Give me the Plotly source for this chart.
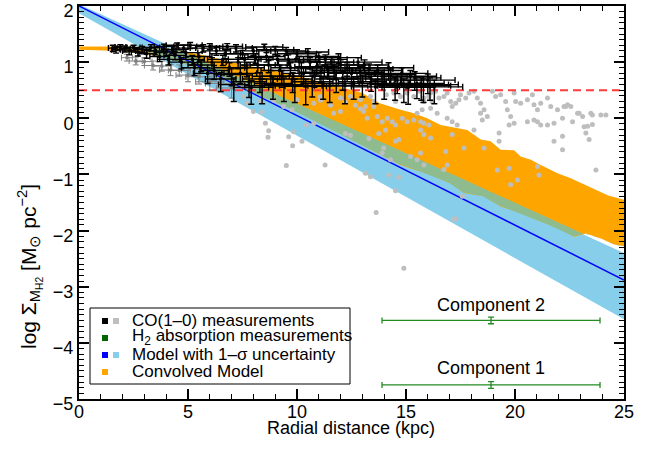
import numpy as np
import plotly.graph_objects as go

# ---------------- data ----------------
# Exponential model with 1-sigma uncertainty band (log Sigma vs radius)
model_r = [0.0, 25.0]
model_mid = [2.00, -2.88]
model_hi = [2.03, -2.40]
model_lo = [1.87, -3.58]

# Convolved model band (upper / lower envelopes)
conv_hi_r = [0, 2, 4, 5, 6, 7, 8, 9, 10, 11, 12, 13, 13.8, 14.75, 15.36, 15.97, 16.59,
             17.05, 17.81, 18.43, 18.88, 19.34, 19.96, 20.26, 20.73, 21.18, 21.95,
             22.56, 23.05, 23.33, 24.25, 24.4, 25.0]
conv_hi = [1.28, 1.28, 1.25, 1.18, 1.10, 1.00, 0.92, 0.85, 0.76, 0.66, 0.55, 0.45, 0.27,
           0.15, 0.09, 0.00, -0.12, -0.15, -0.21, -0.38, -0.41, -0.56, -0.57, -0.68,
           -0.74, -0.83, -0.98, -1.07, -1.16, -1.21, -1.37, -1.39, -1.45]
conv_lo_r = [0, 2, 3, 4, 5, 6, 7, 8, 9, 10, 11, 12, 13, 14, 14.75, 16.13, 17.05, 17.66,
             18.58, 19.34, 20.26, 21.18, 21.95, 22.71, 23.25, 23.94, 24.55, 25.0]
conv_lo = [1.22, 1.20, 1.15, 1.08, 0.95, 0.80, 0.62, 0.46, 0.29, 0.12, -0.08, -0.28, -0.48,
           -0.68, -0.83, -1.01, -1.16, -1.33, -1.39, -1.57, -1.69, -1.84, -1.96, -2.11,
           -2.05, -2.14, -2.25, -2.28]

# CO(1-0) measurements with error bars (black)
co_r = [1.55, 1.7, 1.9, 2.1, 2.3, 2.5, 2.7, 2.9,
        3.1, 3.3, 3.5, 3.7, 3.9, 4.1, 4.3, 4.5, 4.7, 4.9,
        5.1, 5.3, 5.5, 5.7, 5.9, 6.1, 6.3, 6.5, 6.7, 6.9,
        7.1, 7.2, 7.4, 7.6, 7.8, 8.0, 8.2, 8.4, 8.6, 8.8, 9.0,
        9.2, 9.4, 9.6, 9.8, 10.0, 10.2, 10.4, 10.6, 10.8, 11.0, 11.2, 11.4, 11.6, 11.8,
        12.0, 12.2, 12.5, 12.8, 13.0, 13.3, 13.6, 13.9, 14.2, 14.5, 14.8,
        15.1, 15.4, 15.7, 16.0, 16.3,
        4.0, 4.4, 4.8, 5.2, 5.6, 6.0, 6.2, 6.6, 6.8, 7.0, 7.3, 7.5, 7.7, 7.9, 8.1, 8.3,
        8.5, 8.7, 8.9, 9.1, 9.3, 9.5, 9.7, 9.9, 10.1, 10.3, 10.5, 10.7, 10.9, 11.1, 11.3,
        11.5, 11.7, 11.9, 12.1, 12.3, 12.6, 12.9, 13.1, 13.4, 13.7, 14.0, 14.3, 14.6,
        14.9, 15.2, 15.5, 15.8, 16.1]
co_sigma = [1.25, 1.22, 1.27, 1.24, 1.20, 1.26, 1.18, 1.23,
            1.15, 1.26, 1.20, 1.10, 1.28, 1.05, 1.22, 1.30, 1.00, 1.17,
            1.30, 0.90, 1.10, 1.25, 0.80, 1.00, 1.20, 0.70, 1.15, 0.90,
            0.60, 1.25, 0.80, 1.05, 0.65, 1.20, 0.95, 0.58, 1.10, 0.75, 1.22,
            0.85, 0.60, 1.05, 0.70, 1.15, 0.90, 0.57, 1.00, 0.75, 1.10, 0.62, 0.88, 1.00, 0.70,
            0.95, 0.58, 0.80, 1.00, 0.65, 0.88, 0.56, 0.75, 0.90, 0.60, 0.80,
            0.55, 0.72, 0.60, 0.68, 0.56,
            1.18, 1.12, 1.25, 1.05, 0.95, 1.28, 0.85, 1.05, 1.28, 0.78, 1.00, 1.15, 0.90,
            0.55, 1.08, 0.70, 1.27, 0.95, 0.62, 1.05, 0.75, 1.20, 0.90, 0.58, 1.02, 0.80,
            1.18, 0.65, 0.92, 0.82, 1.05, 0.58, 0.85, 1.08, 0.72, 0.90, 0.62, 0.82, 0.95,
            0.70, 0.85, 0.62, 0.78, 0.68, 0.58, 0.75, 0.62, 0.58, 0.60]
co_dr = [0.2, 0.2, 0.25, 0.25, 0.3, 0.3, 0.3, 0.35,
         0.35, 0.4, 0.4, 0.45, 0.45, 0.5, 0.5, 0.5, 0.55, 0.55,
         0.55, 0.6, 0.6, 0.6, 0.65, 0.65, 0.65, 0.7, 0.7, 0.7,
         0.7, 0.75, 0.75, 0.75, 0.8, 0.8, 0.8, 0.8, 0.85, 0.85, 0.85,
         0.85, 0.9, 0.9, 0.9, 0.9, 0.95, 0.95, 0.95, 0.95, 1.0, 1.0, 1.0, 1.0, 1.0,
         1.05, 1.05, 1.05, 1.1, 1.1, 1.1, 1.1, 1.15, 1.15, 1.15, 1.2,
         1.2, 1.2, 1.25, 1.25, 1.3,
         0.45, 0.5, 0.55, 0.55, 0.6, 0.6, 0.65, 0.7, 0.7, 0.7, 0.75, 0.75, 0.8, 0.8,
         0.8, 0.8, 0.85, 0.85, 0.85, 0.85, 0.9, 0.9, 0.9, 0.9, 0.95, 0.95, 0.95, 0.95,
         1.0, 1.0, 1.0, 1.0, 1.0, 1.05, 1.05, 1.05, 1.1, 1.1, 1.1, 1.1, 1.15, 1.15,
         1.15, 1.2, 1.2, 1.2, 1.25, 1.25, 1.3]
co_up = [0.05, 0.05, 0.04, 0.05, 0.06, 0.04, 0.06, 0.05,
         0.06, 0.05, 0.06, 0.07, 0.04, 0.07, 0.06, 0.04, 0.08, 0.06,
         0.05, 0.09, 0.07, 0.06, 0.10, 0.08, 0.06, 0.11, 0.07, 0.09,
         0.12, 0.06, 0.10, 0.08, 0.12, 0.06, 0.09, 0.12, 0.07, 0.10, 0.06,
         0.09, 0.12, 0.08, 0.11, 0.07, 0.09, 0.12, 0.08, 0.10, 0.07, 0.12, 0.09, 0.08, 0.11,
         0.09, 0.12, 0.10, 0.08, 0.12, 0.09, 0.12, 0.10, 0.09, 0.12, 0.10,
         0.12, 0.11, 0.12, 0.11, 0.12,
         0.05, 0.06, 0.05, 0.07, 0.08, 0.05, 0.09, 0.07, 0.05, 0.10, 0.08, 0.06, 0.09,
         0.12, 0.07, 0.11, 0.05, 0.08, 0.12, 0.07, 0.10, 0.06, 0.09, 0.12, 0.08, 0.10,
         0.06, 0.12, 0.09, 0.10, 0.08, 0.12, 0.10, 0.07, 0.11, 0.09, 0.12, 0.10, 0.09,
         0.11, 0.10, 0.12, 0.10, 0.11, 0.12, 0.10, 0.12, 0.12, 0.12]
co_dn = [0.06, 0.06, 0.05, 0.06, 0.07, 0.05, 0.07, 0.06,
         0.08, 0.06, 0.07, 0.09, 0.05, 0.10, 0.07, 0.05, 0.12, 0.08,
         0.06, 0.14, 0.10, 0.07, 0.18, 0.12, 0.08, 0.22, 0.09, 0.15,
         0.30, 0.07, 0.18, 0.11, 0.28, 0.08, 0.14, 0.32, 0.10, 0.20, 0.08,
         0.16, 0.30, 0.11, 0.24, 0.09, 0.15, 0.33, 0.12, 0.20, 0.10, 0.28, 0.16, 0.12, 0.24,
         0.14, 0.32, 0.18, 0.12, 0.27, 0.16, 0.30, 0.20, 0.15, 0.28, 0.18,
         0.30, 0.22, 0.28, 0.24, 0.30,
         0.07, 0.08, 0.06, 0.10, 0.12, 0.06, 0.16, 0.11, 0.06, 0.20, 0.12, 0.08, 0.16,
         0.30, 0.10, 0.24, 0.06, 0.14, 0.28, 0.10, 0.20, 0.08, 0.15, 0.30, 0.12, 0.18,
         0.08, 0.27, 0.15, 0.18, 0.10, 0.30, 0.16, 0.10, 0.22, 0.15, 0.28, 0.18, 0.14,
         0.22, 0.16, 0.28, 0.20, 0.24, 0.30, 0.20, 0.27, 0.30, 0.28]

# CO(1-0) measurements (grey) with error bars
cog_r = [2.2, 2.6, 3.0, 3.4, 3.8, 4.2, 4.6, 5.0, 5.5, 6.0, 6.5, 7.0]
cog_sigma = [1.08, 1.02, 1.01, 0.94, 0.93, 0.86, 0.85, 0.77, 0.74, 0.65, 0.62, 0.54]
cog_dr = [0.25, 0.3, 0.35, 0.4, 0.45, 0.5, 0.5, 0.55, 0.6, 0.65, 0.7, 0.7]
cog_dy = [0.06, 0.07, 0.07, 0.08, 0.09, 0.1, 0.1, 0.12, 0.13, 0.15, 0.16, 0.18]

# CO(1-0) grey points (no error bars)
grey_r = [7.55, 7.7, 8.0, 8.32, 8.4, 8.55, 8.7, 8.67, 8.93, 9.39, 9.51, 9.62, 9.77, 9.85,
          9.8, 10.0, 10.23, 10.43, 10.77, 10.77, 11.07, 11.08, 11.29, 11.54, 11.68, 11.99,
          12.0, 12.22, 12.22, 12.45, 12.45, 12.68, 12.91, 12.91, 13.06, 13.14, 13.14, 13.22,
          13.3, 13.37, 13.37, 13.52, 13.52, 13.63, 13.68, 13.75, 13.91, 13.91, 13.98,
          14.1, 14.44, 14.52, 14.75, 15.05, 15.36, 15.59, 15.82, 15.82, 16.05, 16.13, 16.2,
          16.36, 16.51, 16.74, 16.89, 17.05, 17.12, 17.28, 17.43, 17.5, 17.74, 17.89, 18.12,
          18.27, 18.42, 18.58, 18.42, 18.73, 18.96, 19.11, 19.34, 19.57, 19.65, 19.8, 19.96,
          20.03, 20.26, 20.57, 20.8, 20.87, 21.03, 21.18, 21.49, 21.64, 21.95, 22.25, 22.41,
          22.56, 22.87, 23.1, 23.48, 23.94, 24.17, 22.18, 22.64, 23.17, 23.25, 23.4, 22.18,
          21.79, 22.18, 19.27, 19.27, 19.73, 19.96, 20.57, 20.87, 21.03, 21.18, 21.49, 21.79,
          18.12, 18.5, 17.35, 17.12, 16.89, 16.43, 16.13, 15.74, 15.51, 15.36, 15.67, 15.82,
          15.67, 15.82, 16.13, 16.05, 15.05, 14.83, 14.52, 14.37, 14.14, 14.06, 14.67,
          14.52, 15.21, 15.51, 15.82, 16.82, 17.12, 17.66, 18.58, 19.19, 19.73, 19.8, 20.11,
          21.03, 21.1, 23.71, 14.21, 14.67, 14.52, 17.28, 17.58, 16.74, 16.89, 15.67, 14.29,
          14.9, 17.2, 22.94, 23.55, 23.33, 23.55, 22.33]
grey_s = [0.39, 0.27, 0.12, 0.30, 0.11, -0.09, -0.22, -0.34, 0.32, 0.21, -0.84, -0.33, 0.15, -0.24,
          -0.49, 0.33, -0.41, -0.12, 0.27, -0.09, 0.39, 0.32, -0.83, 0.23, 0.09, 0.12,
          0.36, 0.29, -0.27, 0.39, -0.30, 0.23, 0.33, 0.17, 0.12, 0.21, -0.98, 0.00,
          -0.36, 0.39, -1.04, 0.30, 0.21, -1.68, 0.03, -0.27, -0.06, -0.62, -0.53,
          0.42, 0.45, 0.30, 0.39, 0.45, 0.39, 0.48, 0.36, 0.30, 0.39, 0.45, 0.30,
          0.48, 0.36, 0.39, 0.45, 0.30, 0.21, 0.27, 0.33, 0.42, 0.36, 0.45, 0.48,
          0.36, 0.27, 0.15, 0.09, 0.03, 0.48, 0.39, 0.42, 0.30, 0.15, 0.03, 0.45,
          0.30, 0.27, 0.33, 0.42, 0.24, 0.15, 0.27, 0.36, 0.21, 0.15, 0.21, 0.24,
          0.21, 0.09, 0.03, 0.09, 0.06, 0.06, 0.00, -0.06, -0.15, -0.26, -0.38, -0.32,
          -0.41, -0.56, -0.41, -0.26, -0.12, -0.09, -0.06, -0.03, -0.06, -0.12, -0.12, -0.09,
          -0.21, -0.03, -0.12, -0.06, 0.00, 0.09, 0.18, 0.15, 0.09, -0.03, -0.06, -0.09,
          -0.21, -0.29, -0.35, -0.12, -0.06, 0.00, -0.12, -0.06, 0.00, -0.21, -0.38,
          -0.41, -0.68, -0.74, -0.83, -0.59, -0.29, -0.53, -0.53, -0.92, -0.89, -1.18, -1.10,
          -0.86, -1.01, -0.92, -1.01, -1.05, -1.29, -1.79, -1.39, -0.91, -0.83, -0.62, -0.74,
          -2.67, -1.80, 0.09, 0.06, -0.14, -0.11, 0.21]

# H2 absorption measurements (two components)
h2_r = [18.9, 18.9]
h2_dr = [5.0, 5.0]
h2_sigma = [-4.75, -3.60]
h2_dsigma = [0.06, 0.06]
h2_labels = ["Component 1", "Component 2"]
h2_label_y = [-4.44, -3.32]

threshold = 0.5
ytick_vals = [-5, -4, -3, -2, -1, 0, 1, 2]
xtick_vals = [0, 5, 10, 15, 20, 25]

# ---------------- figure ----------------
FONT = "Liberation Sans, Arial, Helvetica, sans-serif"
fig = go.Figure()

# model 1-sigma band
band_x = list(model_r) + list(model_r[::-1])
band_y = list(model_hi) + list(model_lo[::-1])
fig.add_trace(go.Scatter(x=band_x, y=band_y, fill="toself", fillcolor="#87CEEB",
                         line=dict(width=0), mode="lines", hoverinfo="skip"))

# convolved model band
cx = list(conv_hi_r) + list(conv_lo_r[::-1])
cy = list(conv_hi) + list(conv_lo[::-1])
fig.add_trace(go.Scatter(x=cx, y=cy, fill="toself", fillcolor="#FFA500",
                         line=dict(width=0), mode="lines", hoverinfo="skip"))

# overlap of the two bands
grid = np.linspace(0, 25, 1001)
bh = np.interp(grid, model_r, model_hi)
bl = np.interp(grid, model_r, model_lo)
ch = np.interp(grid, conv_hi_r, conv_hi)
cl = np.interp(grid, conv_lo_r, conv_lo)
top = np.minimum(bh, ch)
bot = np.maximum(bl, cl)
top = np.maximum(top, bot)
fig.add_trace(go.Scatter(x=np.concatenate([grid, grid[::-1]]),
                         y=np.concatenate([top, bot[::-1]]),
                         fill="toself", fillcolor="#8FBC8F",
                         line=dict(width=0), mode="lines", hoverinfo="skip"))

# model line
fig.add_trace(go.Scatter(x=model_r, y=model_mid, mode="lines",
                         line=dict(color="#0000FF", width=1.5)))

# grey points
fig.add_trace(go.Scatter(x=grey_r, y=grey_s, mode="markers",
                         marker=dict(color="#BEBEBE", size=5, line=dict(width=0))))

# threshold
fig.add_trace(go.Scatter(x=[0, 25], y=[threshold, threshold], mode="lines",
                         line=dict(color="#FF3B3B", width=2, dash="8px,5px")))

# grey CO with error bars
fig.add_trace(go.Scatter(
    x=cog_r, y=cog_sigma, mode="markers",
    marker=dict(color="#7F7F7F", size=3, symbol="square"),
    error_x=dict(type="data", array=cog_dr, color="#7F7F7F", thickness=1, width=3),
    error_y=dict(type="data", array=cog_dy, color="#7F7F7F", thickness=1, width=3)))

# black CO with error bars
fig.add_trace(go.Scatter(
    x=co_r, y=co_sigma, mode="markers",
    marker=dict(color="black", size=3, symbol="square"),
    error_x=dict(type="data", array=co_dr, color="black", thickness=1.4, width=3),
    error_y=dict(type="data", symmetric=False, array=co_up, arrayminus=co_dn,
                 color="black", thickness=1.4, width=3)))

# H2 absorption components
fig.add_trace(go.Scatter(
    x=h2_r, y=h2_sigma, mode="markers", marker=dict(size=1, color="#228B22"),
    error_x=dict(type="data", array=h2_dr, color="#228B22", thickness=1.3, width=3),
    error_y=dict(type="data", array=h2_dsigma, color="#228B22", thickness=1.3, width=3)))

annotations = []
for lx, ly, lt in zip(h2_r, h2_label_y, h2_labels):
    annotations.append(dict(x=lx, y=ly, xref="x", yref="y", text=lt, showarrow=False,
                            font=dict(family=FONT, size=18, color="black"),
                            xanchor="center", yanchor="middle"))

# plot-area pixel helpers for layout items
L, R, T, B = 79, 28, 6, 57
W, H = 652, 456
PW, PH = W - L - R, H - T - B


def px(xp):
    return (xp - L) / PW


def py(yp):
    return (H - B - yp) / PH


# y-axis title
annotations.append(dict(
    x=px(29), y=py(267), xref="paper", yref="paper", textangle=-90, showarrow=False,
    text="log Σ<sub>M<sub>H2</sub></sub> [M<sub>⊙</sub> pc<sup>−2</sup>]",
    font=dict(family=FONT, size=21, color="black"), xanchor="center", yanchor="middle"))

# x-axis title
annotations.append(dict(
    x=px(351), y=py(428), xref="paper", yref="paper", showarrow=False,
    text="Radial distance (kpc)",
    font=dict(family=FONT, size=18, color="black"), xanchor="center", yanchor="middle"))

# manual legend
legend_rows = [
    ("CO(1–0) measurements", ["#000000", "#BEBEBE"], 320),
    ("H<sub>2</sub> absorption measurements", ["#006400"], 337),
    ("Model with 1–σ uncertainty", ["#0000FF", "#87CEEB"], 354),
    ("Convolved Model", ["#FFA500"], 371),
]
shapes = [dict(type="rect", xref="paper", yref="paper", x0=px(90), x1=px(350),
               y0=py(308), y1=py(384), line=dict(color="black", width=1),
               fillcolor="white", layer="above")]
for text, cols, yc in legend_rows:
    for i, c in enumerate(cols):
        x0 = 102 + 11 * i
        shapes.append(dict(type="rect", xref="paper", yref="paper",
                           x0=px(x0), x1=px(x0 + 6), y0=py(yc + 4), y1=py(yc - 2),
                           line=dict(width=0), fillcolor=c, layer="above"))
    annotations.append(dict(x=px(130), y=py(yc), xref="paper", yref="paper", text=text,
                            showarrow=False, xanchor="left", yanchor="middle",
                            font=dict(family=FONT, size=17, color="black")))

axis_common = dict(showline=True, linecolor="black", linewidth=2, mirror="ticks",
                   ticks="inside", ticklen=10, tickwidth=1.5, tickcolor="black",
                   showgrid=False, zeroline=False, automargin=False,
                   ticklabeloverflow="allow",
                   tickfont=dict(family=FONT, size=18, color="black"))

fig.update_layout(
    width=W, height=H, margin=dict(l=L, r=R, t=T, b=B),
    paper_bgcolor="white", plot_bgcolor="white", showlegend=False,
    xaxis=dict(range=[0, 25], tickmode="array", tickvals=xtick_vals, ticklabelstandoff=-5,
               minor=dict(dtick=1, tick0=0, ticklen=5, ticks="inside", tickcolor="black",
                          tickwidth=1),
               **axis_common),
    yaxis=dict(range=[-5, 2], tickmode="array", tickvals=ytick_vals, ticklabelshift=5,
               minor=dict(dtick=0.1, tick0=0, ticklen=5, ticks="inside", tickcolor="black",
                          tickwidth=1),
               **axis_common),
    annotations=annotations, shapes=shapes,
)

fig.write_html("out.html", config={"displayModeBar": False},
               post_script="document.body.style.margin='0';")
